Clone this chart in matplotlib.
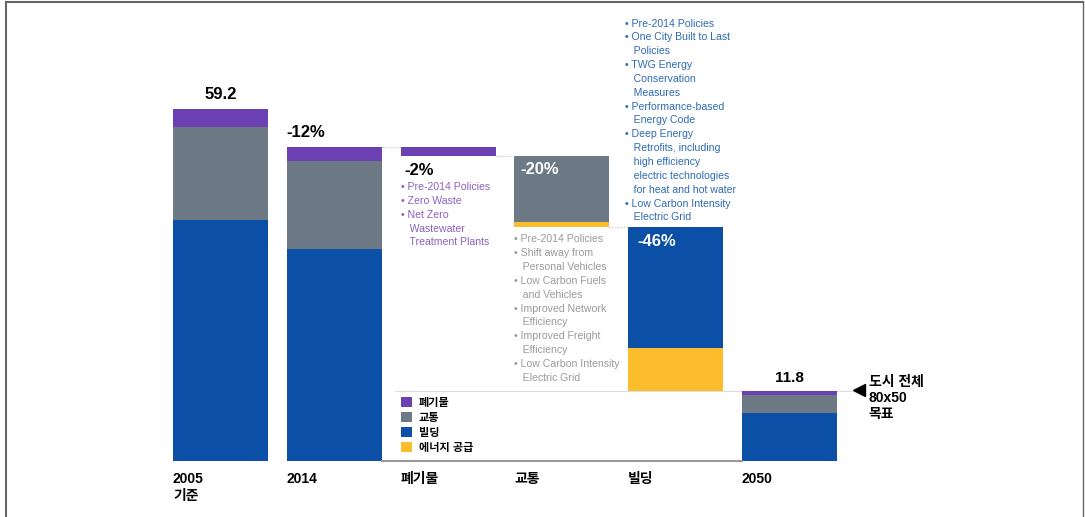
import numpy as np
import matplotlib
matplotlib.use("Agg")
import matplotlib.pyplot as plt
from matplotlib.patches import Patch
from matplotlib.lines import Line2D

plt.rcParams['font.family'] = ['Liberation Sans', 'Noto Sans CJK KR', 'DejaVu Sans']

# data (MtCO2e)
categories = ['2005\n기준', '2014', '폐기물', '교통', '빌딩', '2050']
is_total = [True, True, False, False, False, True]
energy = [0, 0, 0, 0.8, 7.2, 0]
building = [40.5, 35.7, 0, 0, 20.4, 8.1]
transport = [15.6, 14.8, 0, 11.1, 0, 3.0]
waste = [3.1, 2.3, 1.5, 0, 0, 0.7]
step_labels = ['59.2', '-12%', '-2%', '-20%', '-46%', '11.8']

waste_items = ['Pre-2014 Policies', 'Zero Waste', 'Net Zero\nWastewater\nTreatment Plants']
transport_items = ['Pre-2014 Policies', 'Shift away from\nPersonal Vehicles',
                   'Low Carbon Fuels\nand Vehicles', 'Improved Network\nEfficiency',
                   'Improved Freight\nEfficiency', 'Low Carbon Intensity\nElectric Grid']
building_items = ['Pre-2014 Policies', 'One City Built to Last\nPolicies',
                  'TWG Energy\nConservation\nMeasures', 'Performance-based\nEnergy Code',
                  'Deep Energy\nRetrofits, including\nhigh efficiency\nelectric technologies\nfor heat and hot water',
                  'Low Carbon Intensity\nElectric Grid']
legend_labels = ['폐기물', '교통', '빌딩', '에너지 공급']
target_label = '도시 전체\n80x50\n목표'

c_waste = '#6a40b2'
c_trans = '#6d7a86'
c_build = '#0b4fa6'
c_energy = '#fbbd2b'

x = np.arange(len(categories))
w = 0.835

# waterfall bases
step_sum = np.array(energy) + np.array(building) + np.array(transport) + np.array(waste)
bases = []
level = 0
for i in range(len(x)):
    if is_total[i]:
        bases.append(0)
        level = step_sum[i]
    else:
        level = level - step_sum[i]
        bases.append(level)
bases = np.array(bases)
tops = bases + step_sum

fig = plt.figure(figsize=(10.85, 5.17), dpi=100)
ax = fig.add_axes([0, 0, 1, 1])
ax.set_xlim(-1.9376, 7.597)
ax.set_ylim(-9.418, 77.53)
ax.axis('off')

b = bases.copy()
for vals, col in [(energy, c_energy), (building, c_build), (transport, c_trans), (waste, c_waste)]:
    ax.bar(x, vals, w, bottom=b, color=col, linewidth=0)
    b = b + np.array(vals)

# connectors
ax.plot([x[1] + w / 2, x[2] - w / 2], [tops[1], tops[1]], ls=':', color='#bbbbbb', lw=0.8)
ax.plot([x[2] + w / 2, x[3] - w / 2], [bases[2], bases[2]], ls=':', color='#bbbbbb', lw=0.8)
ax.plot([x[3] + w / 2, x[4] - w / 2], [bases[3], bases[3]], ls=':', color='#bbbbbb', lw=0.8)
ax.plot([x[2] - w / 2 - 0.05, x[5] + w / 2 + 0.12], [bases[4], bases[4]], color='#dddddd', lw=0.8, zorder=0)
ax.plot([x[1] + w / 2, x[5] - w / 2], [0, 0], color='#999999', lw=1.5)

# step labels
ax.text(x[0], tops[0] + 1.2, step_labels[0], ha='center', va='bottom', fontsize=12, fontweight='bold')
ax.text(x[1] - w / 2, tops[1] + 1.2, step_labels[1], ha='left', va='bottom', fontsize=12, fontweight='bold')
ax.text(x[2] - w / 2 + 0.03, bases[2] - 1.2, step_labels[2], ha='left', va='top', fontsize=12, fontweight='bold')
ax.text(x[3] - w / 2 + 0.05, tops[3] - 1.0, step_labels[3], ha='left', va='top', fontsize=12,
        fontweight='bold', color='white')
ax.text(x[4] - w / 2 + 0.08, tops[4] - 1.2, step_labels[4], ha='left', va='top', fontsize=12,
        fontweight='bold', color='white')
ax.text(x[5], tops[5] + 1.0, step_labels[5], ha='center', va='bottom', fontsize=11, fontweight='bold')


def bullets(items, xpos, ytop, color):
    txt = '\n'.join('• ' + it.replace('\n', '\n   ') for it in items)
    ax.text(xpos, ytop, txt, ha='left', va='top', fontsize=7.6, color=color, linespacing=1.48)


bullets(waste_items, x[2] - w / 2 + 0.0, bases[2] - 4.4, '#8a62c2')
bullets(transport_items, x[3] - w / 2 + 0.0, bases[3] - 1.3, '#9a9a9a')
bullets(building_items, x[4] - w / 2 - 0.03, 74.4, '#2e6bb4')

# x labels
for xi, lab in zip(x, categories):
    ax.text(xi - w / 2, -1.9, lab, ha='left', va='top', fontsize=10, fontweight='bold', linespacing=1.25)

# target marker
ax.plot([x[5] + w / 2 + 0.19], [bases[4] + 0.2], marker='<', color='black', markersize=9)
ax.text(x[5] + w / 2 + 0.28, bases[4] + 2.6, target_label, ha='left', va='top', fontsize=10,
        fontweight='bold', linespacing=1.15)

# legend
handles = [Patch(facecolor=c, edgecolor='none') for c in [c_waste, c_trans, c_build, c_energy]]
leg = ax.legend(handles, legend_labels, loc='upper left', bbox_to_anchor=(399 / 1085, 1 - 395 / 517),
                frameon=False, fontsize=8, handlelength=1.0, handleheight=1.0, handletextpad=0.6,
                labelspacing=0.38, borderaxespad=0, borderpad=0.2)
for t in leg.get_texts():
    t.set_fontweight('bold')

# frame of the picture
fig.add_artist(Line2D([6 / 1085, 6 / 1085], [0, 1 - 2 / 517], color='#666666', lw=1.5))
fig.add_artist(Line2D([6 / 1085, 1083 / 1085], [1 - 2 / 517, 1 - 2 / 517], color='#666666', lw=1.5))
fig.add_artist(Line2D([1083 / 1085, 1083 / 1085], [0, 1 - 2 / 517], color='#666666', lw=1.0))

fig.savefig('out.png', dpi=100)
